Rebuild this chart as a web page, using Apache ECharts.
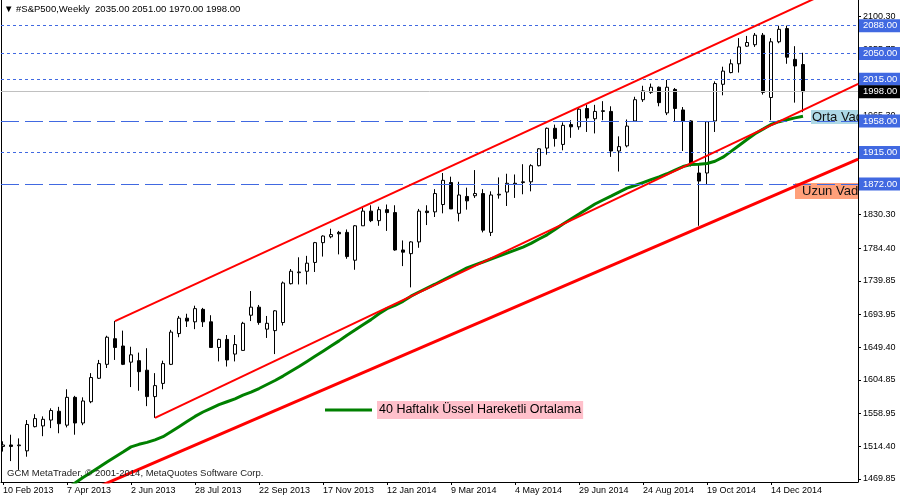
<!DOCTYPE html>
<html><head><meta charset="utf-8">
<script src="https://cdn.jsdelivr.net/npm/echarts@6/dist/echarts.min.js"></script>
<style>html,body{margin:0;padding:0;background:#fff}#c{width:900px;height:500px}</style>
</head><body><div id="c"></div>
<script>
// Weekly candles, index 0 = week of 10 Feb 2013
const openP = [1514,1516,1515,1508,1541,1542,1550,1562,1543,1581,1546,1575,1607,1626,1661,1651,1629,1631,1618,1582,1600,1626,1668,1689,1684,1701,1684,1649,1660,1640,1645,1693,1704,1674,1672,1683,1736,1751,1753,1765,1792,1800,1806,1806,1768,1815,1835,1822,1837,1833,1782,1777,1793,1835,1834,1844,1874,1832,1855,1856,1859,1806,1857,1861,1872,1874,1875,1897,1921,1948,1926,1953,1950,1975,1961,1971,1971,1917,1924,1958,1987,1997,2004,1969,2001,1973,1958,1887,1887,1958,2008,2024,2036,2060,2062,2075,1990,2066,2084,2042,2035];
const highP = [1521,1530,1525,1550,1558,1555,1566,1568,1592,1583,1581,1614,1632,1665,1685,1672,1650,1642,1648,1614,1631,1673,1692,1695,1706,1703,1693,1661,1666,1666,1684,1726,1707,1692,1700,1739,1756,1772,1774,1793,1802,1811,1808,1810,1816,1840,1843,1841,1844,1843,1795,1794,1838,1843,1865,1887,1882,1875,1867,1891,1865,1862,1881,1886,1885,1899,1899,1921,1949,1953,1956,1959,1977,1980,1980,1985,1978,1937,1960,1991,2006,2009,2005,2014,2003,1977,1959,1900,1958,2012,2032,2042,2071,2074,2078,2078,2071,2088,2088,2060,2051];
const lowP = [1507,1494,1482,1500,1540,1528,1539,1532,1540,1530,1543,1573,1606,1621,1632,1625,1595,1590,1569,1553,1592,1625,1663,1677,1674,1677,1649,1630,1623,1630,1645,1685,1680,1662,1640,1679,1735,1735,1735,1752,1773,1798,1776,1770,1755,1815,1820,1815,1808,1781,1760,1731,1785,1816,1827,1832,1838,1821,1837,1853,1806,1801,1852,1842,1853,1858,1862,1896,1912,1923,1918,1935,1946,1943,1941,1959,1909,1889,1922,1957,1984,1995,1978,1966,1957,1917,1896,1815,1872,1943,1993,2023,2024,2059,2059,1994,1959,2064,2036,1983,1970];
const closeP = [1516,1514,1516,1544,1552,1551,1563,1545,1581,1546,1576,1608,1627,1663,1649,1626,1639,1616,1582,1597,1627,1670,1689,1685,1702,1684,1649,1660,1632,1653,1682,1704,1683,1682,1699,1737,1753,1752,1764,1792,1801,1803,1804,1773,1815,1835,1822,1837,1833,1782,1779,1793,1835,1833,1859,1877,1838,1857,1849,1859,1809,1857,1858,1873,1873,1875,1897,1920,1948,1934,1952,1950,1974,1962,1971,1972,1917,1923,1951,1987,1999,2004,1983,2004,1975,1958,1900,1876,1957,2009,2026,2036,2059,2065,2075,1997,2066,2083,2045,2033,1998];
// 40-week EMA
const ema40 = [null,null,null,null,null,null,null,null,1457,1464,1471.5,1478.4,1485.5,1492.8,1499.7,1506.5,1513.4,1516.9,1519.5,1523,1527.3,1534,1541,1548,1555,1561,1566,1571,1575,1579,1584,1588,1593,1598.5,1604,1610,1616.6,1623,1630,1637,1644,1651,1658,1665.8,1672.8,1680,1687,1695,1702,1706.5,1712,1719,1724.7,1730,1735.3,1740.8,1746.4,1752,1757.6,1761.7,1765.6,1769.7,1773.7,1777.8,1781.7,1786,1791,1797,1802.7,1810,1817.5,1824.3,1831,1838,1844.7,1850.2,1855.5,1861,1866.3,1870,1874,1878,1881.6,1886,1891,1895.8,1898.6,1899,1900,1903,1908.6,1916.5,1924.6,1932.7,1940.5,1946.8,1953.2,1957,1959.6,1962.2,1964.3];
const xTickIndex = [0,8,16,24,32,40,48,56,64,72,80,88,96];
const xTickLabels = ['10 Feb 2013','7 Apr 2013','2 Jun 2013','28 Jul 2013','22 Sep 2013','17 Nov 2013','12 Jan 2014','9 Mar 2014','4 May 2014','29 Jun 2014','24 Aug 2014','19 Oct 2014','14 Dec 2014'];
const yTickLabels = [2100.30,2055.75,2010.75,1965.30,1919.40,1874.85,1830.30,1784.40,1739.85,1693.95,1649.40,1604.85,1558.95,1514.40,1469.85];
// trend lines [weekIndex, price]
const upperChannel = [[14,1685],[106.9,2152.3]];
const lowerChannel = [[19,1553],[106.9,2008.6]];
const longTrend = [[-0.4,1401],[106.9,1905.8]];
// horizontal levels
const levelsDotted = [2088,2050,2015,1915];
const levelsDashed = [1958,1872];
const lastPrice = 1998;
// text notes
const noteIdx = [101,99];
const notePrice = [1973,1873.4];
const noteText = ['Orta Vade','Uzun Vade'];
const emaName = '40 Haftalık Üssel Hareketli Ortalama';

const FONT = '"Liberation Sans", Arial, sans-serif';
const BLUE = '#4169E1';
const last = openP.length - 1;
const titleText = '▼ #S&P500,Weekly  ' + [openP[last],highP[last],lowP[last],closeP[last]].map(v=>v.toFixed(2)).join(' ');

const candles = openP.map((o,i)=>[i,o,closeP[i],lowP[i],highP[i]]);
const emaData = ema40.map((v,i)=>v==null?null:[i,v]).filter(d=>d);

function tag(bg){
  return {show:true, position:'end', distance:1, formatter:p=>Number(p.value).toFixed(2),
    color:'#fff', backgroundColor:bg, padding:[2,3,1,4], fontSize:9.5, fontFamily:FONT};
}
const mlData = [];
levelsDotted.forEach(v=>mlData.push({yAxis:v, lineStyle:{color:BLUE,type:[3,3],width:1}, label:tag(BLUE)}));
levelsDashed.forEach(v=>mlData.push({yAxis:v, lineStyle:{color:BLUE,type:[18,6],width:1}, label:tag(BLUE)}));
mlData.push({yAxis:lastPrice, lineStyle:{color:'#C0C0C0',type:'solid',width:1}, label:tag('#000')});

const chart = echarts.init(document.getElementById('c'), null, {renderer:'canvas'});
chart.setOption({
  animation:false,
  backgroundColor:'#fff',
  title:[
    {text:titleText, left:4, top:4, padding:0, textStyle:{fontSize:9.5, fontWeight:'normal', color:'#000', fontFamily:FONT}},
    {text:'GCM MetaTrader, © 2001-2014, MetaQuotes Software Corp.', left:7, top:468, padding:0, textStyle:{fontSize:9.5, fontWeight:'normal', color:'#222', fontFamily:FONT}}
  ],
  legend:{data:[emaName], left:325, top:401, padding:0, itemWidth:47, itemHeight:3, icon:'rect', selectedMode:false,
    textStyle:{fontSize:12.5, color:'#000', fontFamily:FONT, backgroundColor:'#FFC0CB', padding:[3,2,2,2]}},
  grid:{left:1, right:42, top:0, bottom:18, containLabel:false},
  xAxis:{type:'value', min:-0.25, max:106.875, splitLine:{show:false},
    axisLine:{show:true, onZero:false, lineStyle:{color:'#000',width:1}},
    axisTick:{show:true, customValues:xTickIndex, length:3, lineStyle:{color:'#000'}},
    axisLabel:{customValues:xTickIndex, formatter:v=>{const k=xTickIndex.indexOf(Math.round(v));return k>=0?xTickLabels[k]:'';},
      align:'left', margin:4, fontSize:9, color:'#000', fontFamily:FONT}},
  yAxis:[
    {type:'value', position:'right', min:1465.5, max:2123, splitLine:{show:false}, scale:true,
      axisLine:{show:true, onZero:false, lineStyle:{color:'#000',width:1}},
      axisTick:{show:true, customValues:yTickLabels, length:3, lineStyle:{color:'#000'}},
      axisLabel:{customValues:yTickLabels, formatter:v=>v.toFixed(2), margin:5, fontSize:9, color:'#000', fontFamily:FONT}},
    {type:'value', position:'left', min:1465.5, max:2123, splitLine:{show:false},
      axisLine:{show:true, onZero:false, lineStyle:{color:'#000',width:1}}, axisTick:{show:false}, axisLabel:{show:false}}
  ],
  series:[
    {type:'candlestick', name:'S&P500', data:candles, encode:{x:0,y:[1,2,3,4]}, barWidth:4, z:2,
      itemStyle:{color:'#fff', color0:'#000', borderColor:'#000', borderColor0:'#000', borderWidth:1}},
    {type:'custom', name:'notes', z:3, clip:true, data:noteIdx.map((v,k)=>[v,notePrice[k]]),
      renderItem:(params,api)=>{
        const k = params.dataIndex;
        const pt = api.coord([api.value(0), api.value(1)]);
        return {type:'text', x:pt[0], y:pt[1], style:{text:noteText[k], fill:'#111', font:'13px '+FONT,
          backgroundColor:k===0?'#ADD8E6':'#FFA07A', padding:k===0?[1,2,0,1]:[2,2,1,7], align:'left', verticalAlign:'top'}};
      }},
    {type:'line', name:emaName, data:emaData, showSymbol:false, z:4, color:'#008000',
      lineStyle:{color:'#008000', width:3}, itemStyle:{color:'#008000'}},
    {type:'line', name:'upper', data:upperChannel, showSymbol:false, z:5, lineStyle:{color:'#FF0000', width:2}},
    {type:'line', name:'lower', data:lowerChannel, showSymbol:false, z:5, lineStyle:{color:'#FF0000', width:2}},
    {type:'line', name:'long', data:longTrend, showSymbol:false, z:5, lineStyle:{color:'#FF0000', width:3},
      markLine:{silent:true, symbol:['none','none'], data:mlData}}
  ]
});
</script></body></html>
